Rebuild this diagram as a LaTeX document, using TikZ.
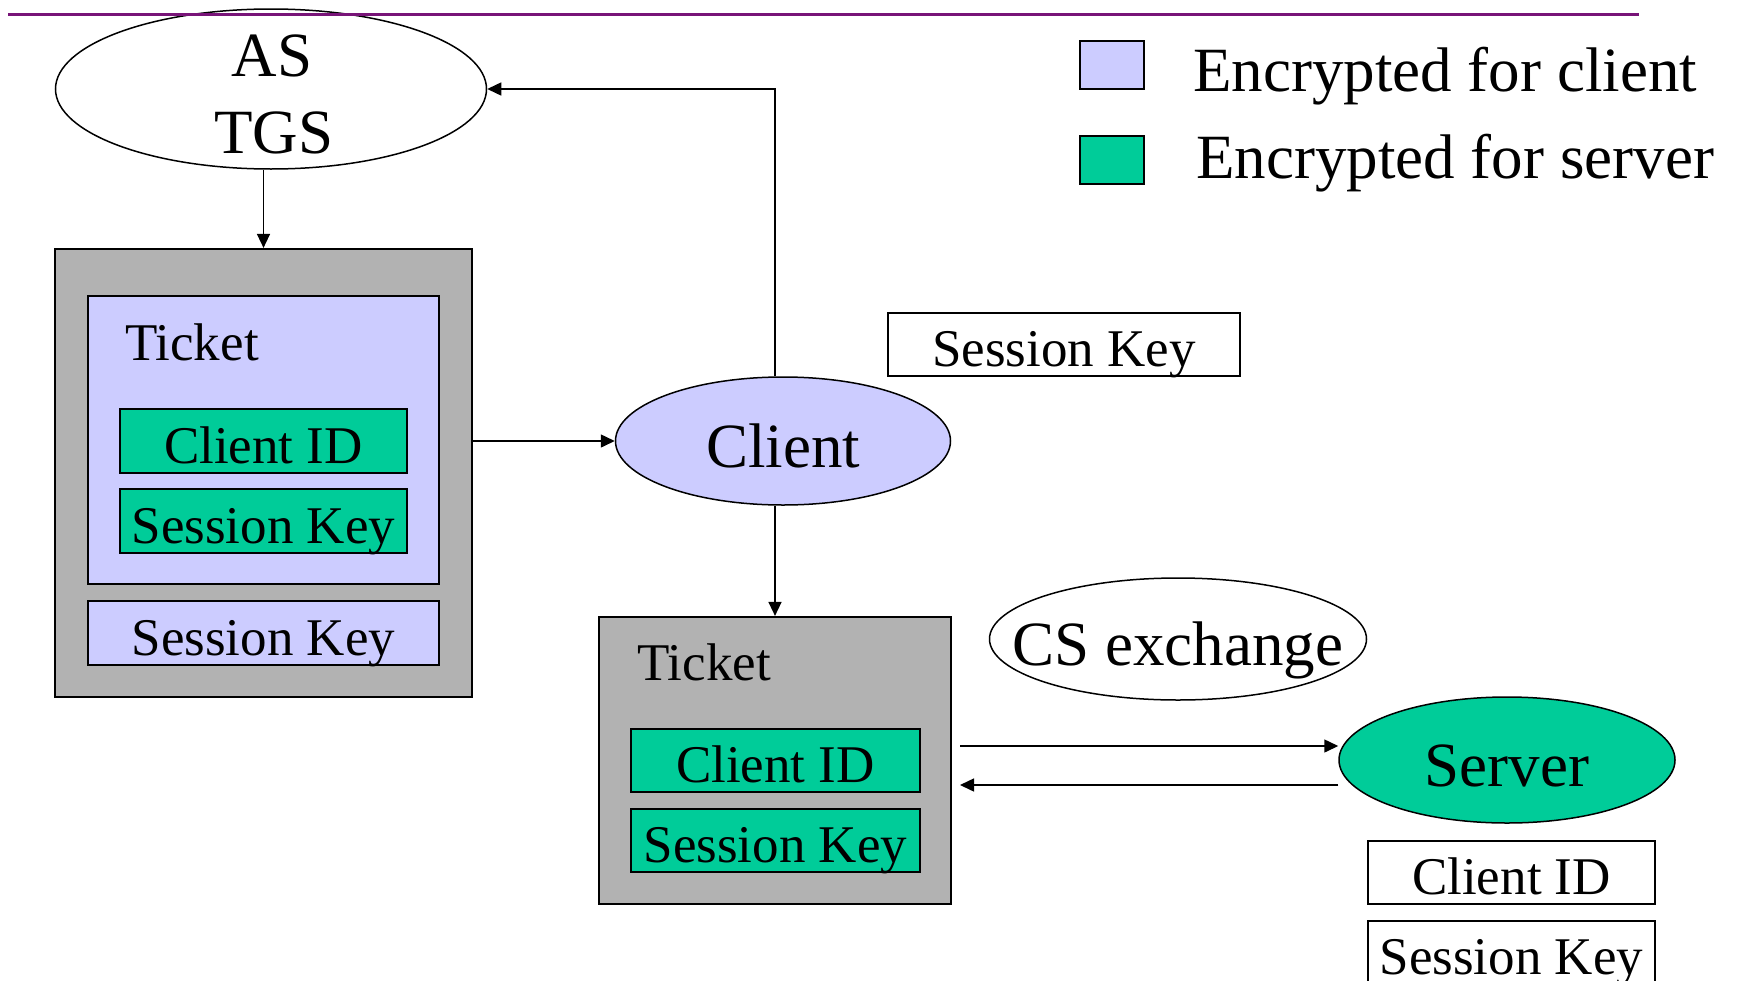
\documentclass[tikz,border=0pt]{standalone}
\usepackage{fontspec}
\setmainfont{Liberation Serif}
\usetikzlibrary{arrows.meta,shapes.geometric}
\definecolor{lav}{RGB}{204,204,255}
\definecolor{grn}{RGB}{0,204,153}
\definecolor{gry}{RGB}{178,178,178}
\definecolor{purp}{RGB}{120,20,120}
\begin{document}
\begin{tikzpicture}[x=1pt,y=-1pt,
  bigf/.style={font=\fontsize{63}{75}\selectfont, inner sep=0pt},
  smallf/.style={font=\fontsize{53}{64}\selectfont, inner sep=0pt},
  bigt/.style={bigf, text height=53pt, text depth=0pt},
  smallt/.style={smallf, text height=44.5pt, text depth=0pt},
  boxn/.style={draw, line width=2.2pt, rectangle, inner sep=0pt},
  ell/.style={draw, line width=1.5pt, ellipse, inner sep=0pt},
  arr/.style={line width=1.5pt, -{Triangle[length=14pt,width=13pt]}},
]
\useasboundingbox (0,0) rectangle (1740,980);

% AS / TGS
\node[ell, minimum width=431pt, minimum height=160pt] (astgs) at (271,89) {};
\node[bigf, anchor=base] (as) at (272,76) {AS};
\node[bigf, anchor=base] (tgs) at (274,153) {TGS};

% left ticket package
\node[boxn, fill=gry, minimum width=417pt, minimum height=448pt] (box1) at (263.5,473) {};
\node[boxn, fill=lav, minimum width=351pt, minimum height=288pt] (tick1) at (263.5,440) {};
\node[smallf, anchor=base west] (tlab1) at (125,360) {Ticket};
\node[boxn, fill=grn, smallt, minimum width=287pt, minimum height=64pt] (cid1) at (263.5,441) {Client ID};
\node[boxn, fill=grn, smallt, minimum width=287pt, minimum height=64pt] (sk1) at (263.5,521) {Session Key};
\node[boxn, fill=lav, smallt, minimum width=351pt, minimum height=64pt] (sk1b) at (263.5,633) {Session Key};

% client
\node[ell, fill=lav, minimum width=335pt, minimum height=128pt] (client) at (783,441) {};
\node[bigt] (clientlab) at (client) {Client};
\node[boxn, fill=white, smallt, minimum width=352pt, minimum height=63pt] (skw) at (1064,344.5) {Session Key};

% bottom ticket
\node[boxn, fill=gry, minimum width=352pt, minimum height=287pt] (box2) at (775,760.5) {};
\node[smallf, anchor=base west] (tlab2) at (637,680) {Ticket};
\node[boxn, fill=grn, smallt, minimum width=289pt, minimum height=63pt] (cid2) at (775.5,760.5) {Client ID};
\node[boxn, fill=grn, smallt, minimum width=289pt, minimum height=63pt] (sk2) at (775.5,840.5) {Session Key};

% CS exchange
\node[ell, minimum width=377pt, minimum height=122pt] (cs) at (1178,639) {};
\node[bigt] (cslab) at (cs) {CS exchange};

% server
\node[ell, fill=grn, minimum width=336pt, minimum height=126pt] (server) at (1507,760) {};
\node[bigt] (serverlab) at (server) {Server};
\node[boxn, fill=white, smallt, minimum width=287pt, minimum height=63pt] (cid3) at (1511.5,872.5) {Client ID};
\node[boxn, fill=white, smallt, minimum width=287pt, minimum height=63pt] (sk3) at (1511.5,952.5) {Session Key};

% legend
\node[boxn, line width=2pt, fill=lav, minimum width=64pt, minimum height=48pt] (leg1) at (1112,65) {};
\node[bigf, anchor=base west] (leg1t) at (1193,91) {Encrypted for client};
\node[boxn, line width=2pt, fill=grn, minimum width=64pt, minimum height=48pt] (leg2) at (1112,160) {};
\node[bigf, anchor=base west] (leg2t) at (1196,178) {Encrypted for server};

% connectors
\draw[arr] (astgs.south -| box1.north) -- (box1.north);
\draw[arr] (box1.east |- client.west) -- (client.west);
\draw[arr] (client.north -| box2.north) |- (astgs.east);
\draw[arr] (client.south -| box2.north) -- (box2.north);
\coordinate (c1) at (960,746);
\coordinate (c2) at (960,785);
\draw[arr] (c1) -- (server.west |- c1);
\draw[arr] (server.west |- c2) -- (c2);

% top rule
\draw[purp, line width=3pt] (8,14) -- (1639,14);
\end{tikzpicture}
\end{document}
